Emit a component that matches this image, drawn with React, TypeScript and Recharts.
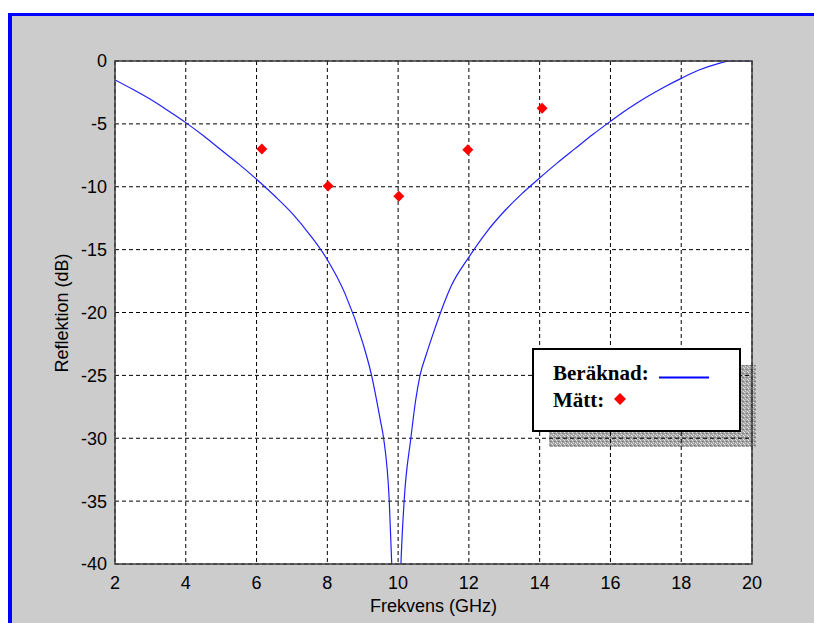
import React from 'react';
import { ComposedChart, Line, Scatter, XAxis, YAxis, CartesianGrid } from 'recharts';

// computed reflection (GHz, dB)
const FREQ = [
  2, 2.5, 3, 3.5, 4, 4.5, 5, 5.5, 6, 6.5, 7, 7.5, 8, 8.5, 9, 9.25, 9.5, 9.59, 9.75, 9.82, 9.95,
  10.08, 10.17, 10.36, 10.5, 10.62, 10.8, 11, 11.2, 11.5, 12, 12.5, 13, 13.5, 14, 14.5, 15, 15.5,
  16, 16.5, 17, 17.5, 18, 18.5, 19, 19.4, 20,
];
const CALC_DB = [
  -1.5, -2.25, -3.05, -3.95, -4.9, -5.95, -7.08, -8.2, -9.4, -10.7, -12.1, -13.8, -15.8, -18.5,
  -22.4, -25, -28.6, -30, -35, -40, -55,
  -40, -35, -30, -26.9, -25, -23.3, -21.6, -20, -17.9, -15.6, -13.6, -11.95, -10.55, -9.3, -8.1,
  -6.97, -5.85, -4.8, -3.8, -2.9, -2.1, -1.38, -0.72, -0.25, 0, 0,
];

// measured points
const MEAS_FREQ = [6.15, 8.02, 10.02, 11.97, 14.07];
const MEAS_DB = [-7, -9.95, -10.75, -7.05, -3.75];

const X_TICKS = [2, 4, 6, 8, 10, 12, 14, 16, 18, 20];
const Y_TICKS = [-40, -35, -30, -25, -20, -15, -10, -5, 0];

const curve = FREQ.map((f, i) => ({ f, db: CALC_DB[i] }));
const measured = MEAS_FREQ.map((f, i) => ({ f, db: MEAS_DB[i] }));

const AXIS_FONT = '"Liberation Sans", Arial, sans-serif';
const LEGEND_FONT = '"Liberation Serif", "Times New Roman", serif';

const Diamond = (props: any) => {
  const { cx, cy } = props;
  const r = 5.5;
  return (
    <polygon
      points={`${cx},${cy - r} ${cx + r},${cy} ${cx},${cy + r} ${cx - r},${cy}`}
      fill="#ff0000"
    />
  );
};

const layer: React.CSSProperties = { position: 'absolute', left: 0, top: 0 };

export default function App() {
  return (
    <div style={{ ...layer, width: 814, height: 623, background: '#fff', overflow: 'hidden' }}>
      {/* window frame */}
      <div style={{ ...layer, left: 8, top: 13, width: 806, height: 610, background: '#0000ff' }} />
      <div style={{ ...layer, left: 12, top: 16, width: 802, height: 607, background: '#cccccc' }} />

      {/* plot background + legend shadow */}
      <svg style={layer} width={814} height={623}>
        <defs>
          <pattern id="stipple" width="4" height="4" patternUnits="userSpaceOnUse">
            <rect width="4" height="4" fill="#a6a6a6" />
            <rect x="0" y="0" width="1" height="1" fill="#e6e6e6" />
            <rect x="2" y="1" width="1" height="1" fill="#7a7a7a" />
            <rect x="1" y="2" width="1" height="1" fill="#dcdcdc" />
            <rect x="3" y="3" width="1" height="1" fill="#e0e0e0" />
            <rect x="3" y="1" width="1" height="1" fill="#8a8a8a" />
          </pattern>
        </defs>
        <rect x={115} y={61} width={637} height={503} fill="#ffffff" />
        <rect x={549} y={365} width={207} height={82} fill="url(#stipple)" />
      </svg>

      <div style={layer}>
        <ComposedChart
          width={814}
          height={623}
          margin={{ top: 61, right: 62, bottom: 29, left: 0 }}
        >
          <CartesianGrid stroke="#000" strokeDasharray="4 3" strokeWidth={1} />
          <XAxis
            dataKey="f"
            type="number"
            domain={[2, 20]}
            ticks={X_TICKS}
            allowDataOverflow
            axisLine={false}
            tickLine={false}
            height={30}
            tickMargin={6}
            tick={{ fill: '#000', fontSize: 18, fontFamily: AXIS_FONT }}
            interval={0}
          />
          <YAxis
            type="number"
            domain={[-40, 0]}
            ticks={Y_TICKS}
            allowDataOverflow
            axisLine={false}
            tickLine={false}
            width={115}
            tick={{ fill: '#000', fontSize: 18, fontFamily: AXIS_FONT }}
            interval={0}
          />
          <Line
            data={curve}
            dataKey="db"
            type="monotone"
            stroke="#2020ff"
            strokeWidth={1.2}
            dot={false}
            activeDot={false}
            isAnimationActive={false}
          />
          <Scatter data={measured} dataKey="db" shape={Diamond} isAnimationActive={false} />
        </ComposedChart>
      </div>

      {/* axes box, titles, legend */}
      <svg style={layer} width={814} height={623}>
        <rect x={115} y={61} width={637} height={503} fill="none" stroke="#3c3c3c" strokeWidth={1.5} />
        <text
          x={433.5}
          y={612}
          textAnchor="middle"
          fontFamily={AXIS_FONT}
          fontSize={18}
          fill="#000"
        >
          Frekvens (GHz)
        </text>
        <text
          x={68}
          y={313}
          textAnchor="middle"
          transform="rotate(-90, 68, 313)"
          fontFamily={AXIS_FONT}
          fontSize={18}
          fill="#000"
        >
          Reflektion (dB)
        </text>

        <rect x={533} y={349} width={207} height={82} fill="#fff" stroke="#000" strokeWidth={2} />
        <text x={553} y={380} fontFamily={LEGEND_FONT} fontWeight="bold" fontSize={21} fill="#000">
          Beräknad:
        </text>
        <line x1={659} y1={377.5} x2={709} y2={377.5} stroke="#0000ff" strokeWidth={2} />
        <text x={553} y={407} fontFamily={LEGEND_FONT} fontWeight="bold" fontSize={21} fill="#000">
          Mätt:
        </text>
        <polygon points="620,393 626,399 620,405 614,399" fill="#ff0000" />
      </svg>
    </div>
  );
}
